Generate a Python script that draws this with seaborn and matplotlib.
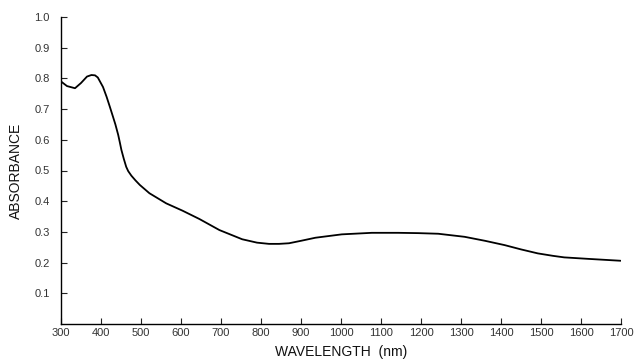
import matplotlib
matplotlib.use("Agg")
import matplotlib.pyplot as plt
import seaborn as sns
import pandas as pd

wavelength = [300, 315, 335, 350, 365, 376, 385, 392, 405, 414, 422, 430, 436, 443, 447, 451,
              457, 463, 468, 476, 486, 497, 521, 563, 604, 646, 696, 753, 790, 820, 845, 870,
              900, 936, 1002, 1077, 1143, 1193, 1243, 1309, 1360, 1409, 1450, 1492, 1530,
              1558, 1620, 1699]
absorbance = [0.790, 0.775, 0.768, 0.785, 0.806, 0.811, 0.810, 0.803, 0.772, 0.740, 0.708,
              0.675, 0.650, 0.616, 0.592, 0.567, 0.538, 0.512, 0.498, 0.483, 0.468, 0.453,
              0.426, 0.393, 0.369, 0.342, 0.306, 0.276, 0.265, 0.261, 0.261, 0.263, 0.271,
              0.281, 0.292, 0.297, 0.297, 0.296, 0.294, 0.284, 0.271, 0.257, 0.243, 0.230,
              0.222, 0.217, 0.212, 0.206]
x_ticks = [300, 400, 500, 600, 700, 800, 900, 1000, 1100, 1200, 1300, 1400, 1500, 1600, 1700]
y_ticks = [0.1, 0.2, 0.3, 0.4, 0.5, 0.6, 0.7, 0.8, 0.9, 1.0]
y_tick_labels = ["0.1", "0.2", "0.3", "0.4", "0.5", "0.6", "0.7", "0.8", "0.9", "1.0"]

sns.set_theme(style="ticks")
plt.rcParams['font.family'] = ['Liberation Sans', 'DejaVu Sans']

df = pd.DataFrame({"wavelength": wavelength, "absorbance": absorbance})

fig = plt.figure(figsize=(6.35, 3.63), dpi=100)
ax = fig.add_axes([61/635, 39/363, 560/635, 307/363])
sns.lineplot(data=df, x="wavelength", y="absorbance", ax=ax, color="black", linewidth=1.3)

ax.set_xlim(300, 1700)
ax.set_ylim(0, 1.0)
ax.set_xticks(x_ticks)
ax.set_xticklabels([str(t) for t in x_ticks])
ax.set_yticks(y_ticks)
ax.set_yticklabels(y_tick_labels)
ax.tick_params(axis="both", direction="in", length=4, width=0.8, colors="#222222",
               labelsize=8, labelcolor="#333333")
ax.tick_params(axis="y", pad=8)
ax.tick_params(axis="x", pad=3)
for s in ["top", "right"]:
    ax.spines[s].set_visible(False)
for s in ["left", "bottom"]:
    ax.spines[s].set_color("black")
    ax.spines[s].set_linewidth(1.0)

ax.set_xlabel("WAVELENGTH  (nm)", fontsize=10, color="#111111", labelpad=5)
ax.set_ylabel("ABSORBANCE", fontsize=10, color="#111111", labelpad=8)

fig.savefig("out.png", dpi=100)
